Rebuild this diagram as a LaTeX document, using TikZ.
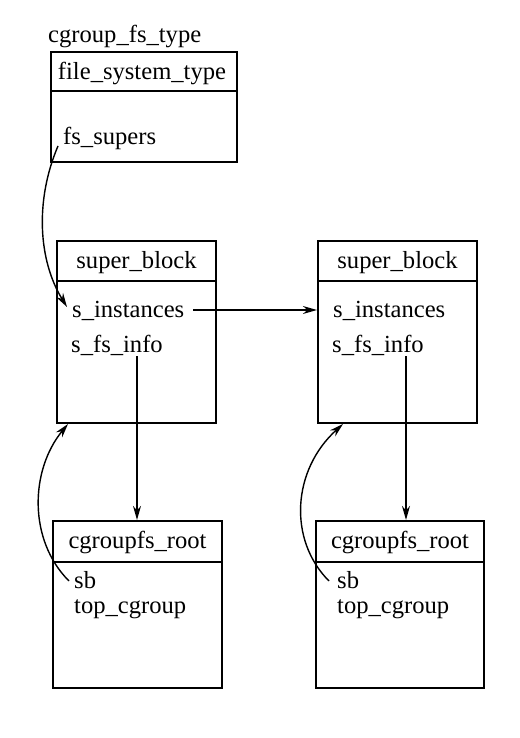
\documentclass[tikz,border=0pt]{standalone}
\usepackage{fontspec}
\setmainfont{Liberation Serif}
\usetikzlibrary{arrows.meta}
\begin{document}
\begin{tikzpicture}[x=1pt,y=-1pt,
  box/.style={draw,line width=2.2pt,rectangle,inner sep=0pt},
  txt/.style={inner sep=0pt,font=\fontsize{24.6}{28}\selectfont},
  lbl/.style={txt,anchor=base west},
  conn/.style={line width=1.4pt,-{Stealth[length=14pt,width=8pt]}}]
\useasboundingbox (0,0) rectangle (519,738);
% top struct
\node[box,minimum width=186pt,minimum height=39pt] (fsth) at (144,71.5) {};
\node[box,minimum width=186pt,minimum height=71pt] (fstb) at (144,126.5) {};
\node[lbl] (title) at (48,43) {cgroup\_fs\_type};
\node[txt,anchor=base] (fstn) at (142,80) {file\_system\_type};
\node[lbl] (fss) at (63,145) {fs\_supers};
% super blocks
\node[box,minimum width=159pt,minimum height=40pt] (sb1h) at (136.5,261) {};
\node[box,minimum width=159pt,minimum height=142pt] (sb1b) at (136.5,352) {};
\node[box,minimum width=159pt,minimum height=40pt] (sb2h) at (397.5,261) {};
\node[box,minimum width=159pt,minimum height=142pt] (sb2b) at (397.5,352) {};
\node[txt,anchor=base] (sb1n) at (136.5,268) {super\_block};
\node[txt,anchor=base] (sb2n) at (397.5,268) {super\_block};
\node[lbl] (si1) at (72,317) {s\_instances};
\node[lbl] (sf1) at (71,352) {s\_fs\_info};
\node[lbl] (si2) at (333,317) {s\_instances};
\node[lbl] (sf2) at (332,352) {s\_fs\_info};
% cgroupfs roots
\node[box,minimum width=169pt,minimum height=41pt] (cr1h) at (137.5,541.5) {};
\node[box,minimum width=169pt,minimum height=126pt] (cr1b) at (137.5,625) {};
\node[box,minimum width=168pt,minimum height=41pt] (cr2h) at (400,541.5) {};
\node[box,minimum width=168pt,minimum height=126pt] (cr2b) at (400,625) {};
\node[txt,anchor=base] (cr1n) at (137.5,548) {cgroupfs\_root};
\node[txt,anchor=base] (cr2n) at (400,548) {cgroupfs\_root};
\node[lbl] (sb1) at (74,588) {sb};
\node[lbl] (tc1) at (74,613) {top\_cgroup};
\node[lbl] (sb2) at (337,588) {sb};
\node[lbl] (tc2) at (337,613) {top\_cgroup};
% connector ends
\coordinate (a1s) at (58,146);
\coordinate (a1e) at (67,307);
\coordinate (hs) at (193,310);
\coordinate (v1s) at (137,356);
\coordinate (v2s) at (406,356);
\coordinate (b1s) at (69,581);
\coordinate (b1e) at (68,424);
\coordinate (b2s) at (329,581);
\coordinate (b2e) at (343,424);
% connectors
\draw[conn] (a1s) .. controls (35,200) and (38,260) .. (a1e);
\draw[conn] (hs) -- (sb2b.west |- hs);
\draw[conn] (v1s) -- (cr1h.north -| v1s);
\draw[conn] (v2s) -- (cr2h.north -| v2s);
\draw[conn] (b1s) .. controls (28,540) and (30,470) .. (b1e);
\draw[conn] (b2s) .. controls (288,540) and (292,470) .. (b2e);
\end{tikzpicture}
\end{document}
